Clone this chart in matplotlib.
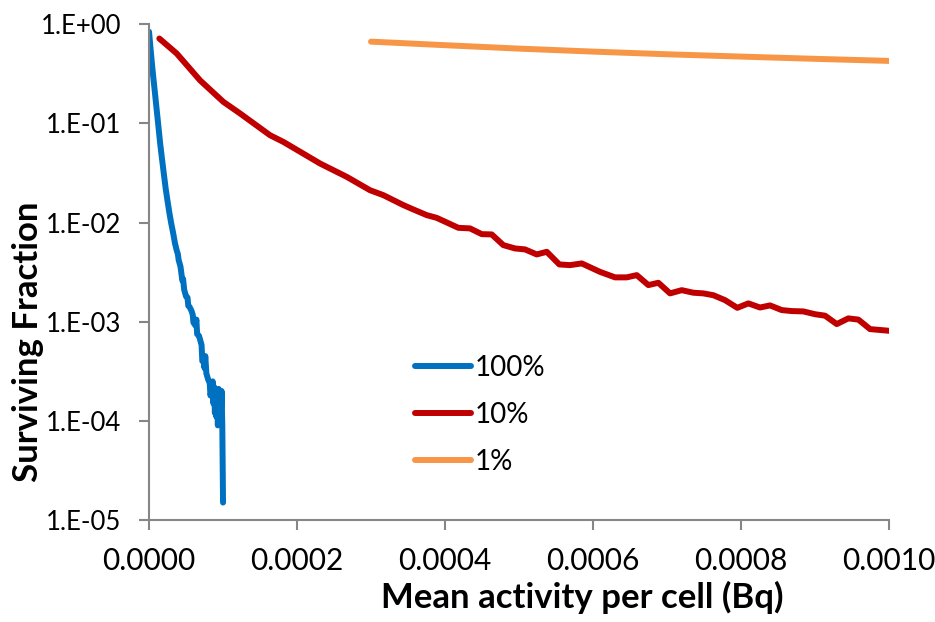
import numpy as np
import matplotlib
matplotlib.use("Agg")
import matplotlib.pyplot as plt
from matplotlib.ticker import FuncFormatter, FixedLocator

plt.rcParams['font.family'] = ['Lato', 'DejaVu Sans']

# 100% (x in units of 1e-6 Bq)
x100 = [0, 2.5, 5, 7.5, 10, 12.5, 15, 17.5, 20, 22.5, 25, 27.5, 30, 32.5, 35, 37.5,
        39, 40, 42.5, 45, 46, 47.5, 50, 52, 53, 55, 57.5, 59, 60, 62.5, 64, 65,
        67.5, 70, 71, 72, 74, 75, 76, 77.5, 80, 82, 83, 85, 86, 87, 88, 89, 90,
        91, 92, 93, 94, 95, 96, 97, 98, 99, 100]
y100 = [0.84, 0.52, 0.33, 0.22, 0.145, 0.096, 0.063, 0.044, 0.031, 0.022, 0.0165,
        0.0125, 0.0098, 0.0079, 0.0062, 0.0052, 0.0048, 0.0042, 0.0036, 0.0026,
        0.0027, 0.0021, 0.0018, 0.00175, 0.00145, 0.0014, 0.00128, 0.00118,
        0.00098, 0.00092, 0.00105, 0.00075, 0.00072, 0.00062, 0.00058, 0.00040,
        0.00040, 0.00034, 0.00045, 0.00030, 0.00026, 0.00024, 0.00018, 0.00021,
        0.00025, 0.00015, 0.00022, 0.00012, 0.00020, 0.00011, 0.00019, 0.00009,
        0.00021, 0.00010, 0.00018, 0.00011, 0.00020, 0.00009, 0.000015]

# 10%
x10 = [13.9, 37.4, 68.9, 100.4, 123, 163.5, 181.5, 204.5, 231.1, 267.2, 298.6,
       316.6, 343.7, 357.2, 375.3, 388.8, 418, 433.8, 449.6, 463.1, 478.8, 494.6,
       508.1, 523.9, 537.5, 554.5, 568.9, 584.8, 609.5, 629.8, 645.6, 659.1,
       674.8, 688.3, 704.1, 719.9, 735.6, 749.1, 762.6, 778.4, 795.0, 809.9,
       825.7, 839.2, 855.0, 868.5, 884.2, 900.0, 913.6, 929.4, 945.0, 958.6,
       974.4, 1000]
y10 = [0.718, 0.507, 0.272, 0.165, 0.126, 0.0760, 0.0651, 0.0516, 0.0394, 0.0289,
       0.0212, 0.0189, 0.0150, 0.01355, 0.01188, 0.01115, 0.00885, 0.00873,
       0.00764, 0.00759, 0.00592, 0.00548, 0.00536, 0.00477, 0.00507, 0.00378,
       0.00372, 0.00387, 0.00318, 0.00280, 0.00280, 0.00295, 0.00234, 0.00247,
       0.00193, 0.00208, 0.00196, 0.00193, 0.00185, 0.00165, 0.00138, 0.00153,
       0.00139, 0.00146, 0.00131, 0.00128, 0.00127, 0.00119, 0.00115, 0.000946,
       0.00108, 0.00105, 0.000842, 0.000810]

# 1%
x1 = [300, 400, 500, 600, 700, 800, 900, 1000]
y1 = [0.668, 0.615, 0.568, 0.530, 0.498, 0.472, 0.448, 0.427]

xticks = [0, 0.0002, 0.0004, 0.0006, 0.0008, 0.0010]
yticks = [1e-5, 1e-4, 1e-3, 1e-2, 1e-1, 1]

fig = plt.figure(figsize=(9.35, 6.22), dpi=100)
ax = fig.add_axes([0.1594, 0.164, 0.7914, 0.797])

lw = 4.3
ax.plot(np.array(x100) * 1e-6, y100, color='#0070C0', lw=lw, label='100%',
        solid_capstyle='round', solid_joinstyle='round')
ax.plot(np.array(x10) * 1e-6, y10, color='#C00000', lw=lw, label='10%',
        solid_capstyle='round', solid_joinstyle='round')
ax.plot(np.array(x1) * 1e-6, y1, color='#F79646', lw=lw, label='1%',
        solid_capstyle='round', solid_joinstyle='round')

ax.set_yscale('log')
ax.set_xlim(0, 0.001)
ax.set_ylim(1e-5, 1)
ax.xaxis.set_major_locator(FixedLocator(xticks))
ax.yaxis.set_major_locator(FixedLocator(yticks))
ax.yaxis.set_minor_locator(FixedLocator([]))
ax.xaxis.set_major_formatter(FuncFormatter(lambda v, p: "%.4f" % v))
ax.yaxis.set_major_formatter(
    FuncFormatter(lambda v, p: "1.E%+03d" % int(round(np.log10(v)))))

for s in ['top', 'right']:
    ax.spines[s].set_visible(False)
for s in ['left', 'bottom']:
    ax.spines[s].set_color('#868686')
    ax.spines[s].set_linewidth(1.5)
ax.tick_params(axis='both', which='major', direction='out', length=7.2,
               width=1.5, color='#868686', labelcolor='black')
ax.tick_params(axis='x', labelsize=21.5, pad=12)
ax.tick_params(axis='y', labelsize=18.5, pad=13)

ax.set_xlabel('Mean activity per cell (Bq)', fontsize=25, fontweight='bold')
ax.set_ylabel('Surviving Fraction', fontsize=25, fontweight='bold')
ax.xaxis.set_label_coords(0.585, -0.157)
ax.yaxis.set_label_coords(-0.1635, 0.36)
ax.xaxis.label.set_va('center')
ax.yaxis.label.set_va('center')

leg = ax.legend(loc='center left', bbox_to_anchor=(0.36, 0.212), frameon=False,
                fontsize=20, handlelength=2.0, handletextpad=0.15,
                labelspacing=0.75, borderpad=0, borderaxespad=0)

fig.savefig('out.png', dpi=100)
